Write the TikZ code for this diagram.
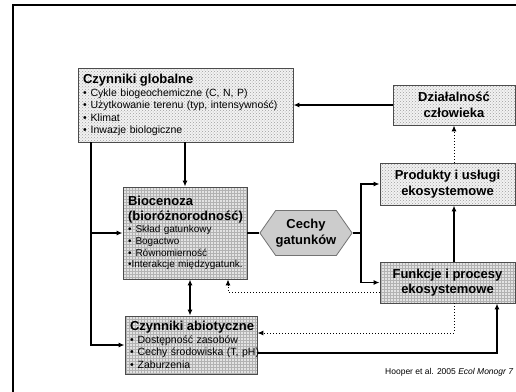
\documentclass[tikz,border=0pt]{standalone}
\usepackage{fontspec}
\setmainfont{Liberation Sans}
\usetikzlibrary{arrows.meta,patterns,shapes.symbols}
\def\bul#1{\mbox{\textbullet\hspace{4pt}#1}}
\def\ttl#1{\mbox{\fontsize{13}{15}\selectfont\bfseries #1}}
\tikzset{
	dotbox/.style={draw=black!70, line width=0.9pt, preaction={fill=black!5}, pattern=crosshatch dots, pattern color=black!38},
	gridbox/.style={draw=black!70, line width=0.9pt, preaction={fill=black!11}, pattern=grid, pattern color=black!30},
	lst/.style={align=left, font=\fontsize{10.5}{12.5}\selectfont, inner xsep=5pt, inner ysep=0pt},
	ctr/.style={align=center, font=\fontsize{13}{15.5}\selectfont\bfseries, inner sep=0pt},
	arr/.style={line width=1.2pt, -{Latex[length=6pt,width=5pt]}},
	arrtwo/.style={line width=1.2pt, {Latex[length=6pt,width=5pt]}-{Latex[length=6pt,width=5pt]}},
	dotarr/.style={line width=1pt, dotted, -{Latex[length=6pt,width=5pt]}},
}

\begin{document}
\begin{tikzpicture}[x=1pt, y=-1pt]
		%%%%% START %%%%%
		\useasboundingbox (0,0) rectangle (516,391);
		\draw[line width=2pt] (13,400) -- (13,5) -- (530,5);
		
		\node[dotbox, lst, minimum width=215pt, minimum height=74pt, text width=205pt] (glob) at (185.5,105)
			{\ttl{Czynniki globalne}\\[0pt]
			\bul{Cykle biogeochemiczne (C, N, P)}\\
			\bul{Użytkowanie terenu (typ, intensywność)}\\
			\bul{Klimat}\\
			\bul{Inwazje biologiczne}};
		\node[dotbox, ctr, minimum width=122pt, minimum height=40pt] (act) at (454,105) {Działalność\\człowieka};
		\node[dotbox, ctr, minimum width=135pt, minimum height=42pt] (prod) at (447.5,184) {Produkty i usługi\\ekosystemowe};
		\node[gridbox, ctr, minimum width=135pt, minimum height=41pt] (funk) at (447.5,282.5) {Funkcje i procesy\\ekosystemowe};
		
		\node[gridbox, lst, font=\fontsize{10}{11.6}\selectfont, minimum width=124pt, minimum height=92pt, text width=114pt] (bio) at (185,233)
			{\ttl{Biocenoza}\\[3pt]
			\ttl{(bioróżnorodność)}\\[1pt]
			\bul{Skład gatunkowy}\\
			\bul{Bogactwo}\\
			\bul{Równomierność}\\
			\mbox{\textbullet Interakcje międzygatunk.}};
		\node[gridbox, lst, minimum width=132pt, minimum height=58pt, text width=122pt] (abio) at (191,345)
			{\ttl{Czynniki abiotyczne}\\[0pt]
			\bul{Dostępność zasobów}\\
			\bul{Cechy środowiska (T, pH)}\\
			\bul{Zaburzenia}};
		
		\node[ctr, shape=signal, signal to=west and east, signal pointer angle=110, minimum width=85pt, minimum height=45pt, fill=black!20, draw=black!55, line width=0.8pt] (cech) at (306,233) {Cechy\\gatunków};
		
		\node[anchor=west, inner sep=0pt, font=\fontsize{8.5}{10}\selectfont] (src) at (385,372) {Hooper et al. 2005 \textit{Ecol Monogr 7}};
		
		\coordinate (trunk) at (91,233);
		\coordinate (split) at (361,233);
		\coordinate (bx) at ([xshift=5pt]bio.south);
		\coordinate (dx) at ([xshift=43pt]bio.south);
		\coordinate (rx) at (act.south);
		\coordinate (fx) at ([xshift=49.5pt]funk.south);
		
		\draw[arr] (act) -- (glob);
		\draw[arr] (glob.south -| bio.north) -- (bio.north);
		\draw[arr] (trunk |- glob.south) |- (abio.west);
		\draw[arr] (trunk) -- (bio.west);
		\draw[line width=1.2pt] (bio.east) -- (cech.west);
		\draw[arr] (cech.east) -- (split) |- (prod.west);
		\draw[arr] (split) |- (funk.west);
		\draw[arrtwo] (bx) -- (bx |- abio.north);
		\draw[dotarr] ([yshift=-10pt]funk.west) -| (dx);
		\draw[dotarr] (rx |- prod.north) -- (act.south);
		\draw[arr] (rx |- funk.north) -- (rx |- prod.south);
		\draw[dotarr] (rx |- funk.south) |- ([yshift=12pt]abio.east);
		\draw[arr] ([yshift=-8pt]abio.east) -| (fx);
		
		%%%%% END %%%%%
	\end{tikzpicture}
\end{document}
